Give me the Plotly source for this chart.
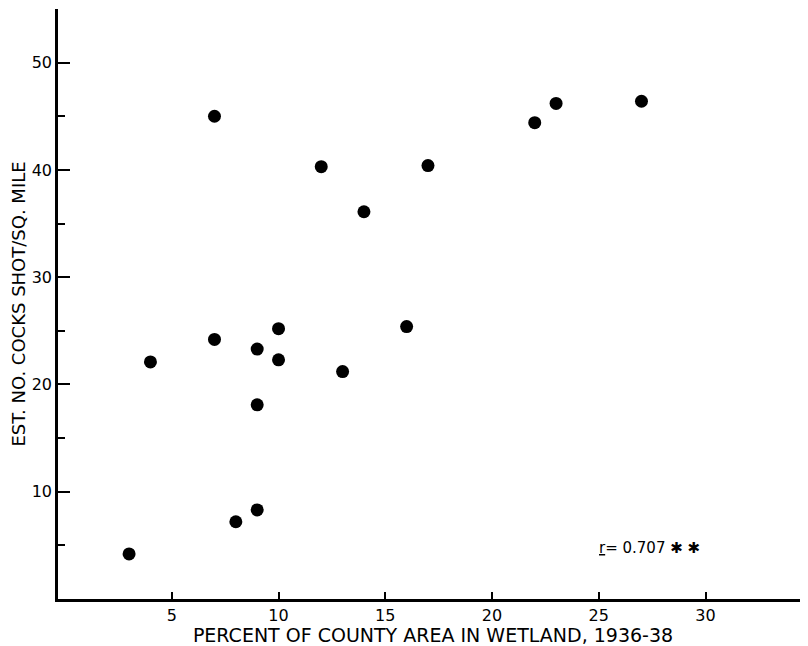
import plotly.graph_objects as go

# Data
wetland_pct = [3, 4, 7, 7, 8, 9, 9, 9, 10, 10, 12, 13, 14, 16, 17, 22, 23, 27]
cocks_per_sqmi = [4.2, 22.1, 45.0, 24.2, 7.2, 8.3, 18.1, 23.3, 25.2, 22.3,
                  40.3, 21.2, 36.1, 25.4, 40.4, 44.4, 46.2, 46.4]

x_labeled_ticks = [5, 10, 15, 20, 25, 30]
x_long_ticks = [10, 20, 30]
y_major_ticks = [10, 20, 30, 40, 50]

x_title = "PERCENT OF COUNTY AREA IN WETLAND, 1936-38"
y_title = "EST. NO. COCKS SHOT/SQ. MILE"
r_text = "<u>r</u>= 0.707 ✱ ✱"

FONT = "DejaVu Sans"
x_range = [-0.33, 34.8]
y_range = [0, 55]

fig = go.Figure()
fig.add_trace(go.Scatter(
    x=wetland_pct, y=cocks_per_sqmi, mode="markers",
    marker=dict(color="black", size=13, line=dict(width=0)),
    showlegend=False, hoverinfo="x+y",
))

fig.update_layout(
    width=800, height=638,
    margin=dict(l=50, r=0, t=1, b=47),
    paper_bgcolor="white", plot_bgcolor="white",
    font=dict(family=FONT, color="black", size=16),
    xaxis=dict(
        range=x_range, showgrid=False, zeroline=False,
        showline=True, linecolor="black", linewidth=2.5,
        tickmode="array", tickvals=x_labeled_ticks,
        ticks="inside", ticklen=7, tickwidth=2, tickcolor="black",
        tickfont=dict(size=16, family=FONT),
        title=dict(text=x_title, font=dict(size=19, family=FONT), standoff=0),
        automargin=False,
    ),
    xaxis2=dict(
        range=x_range, overlaying="x", side="bottom", anchor="y",
        showgrid=False, zeroline=False, showline=False,
        tickmode="array", tickvals=x_long_ticks, showticklabels=False,
        ticks="inside", ticklen=14, tickwidth=2, tickcolor="black",
    ),
    yaxis=dict(
        range=y_range, showgrid=False, zeroline=False,
        showline=True, linecolor="black", linewidth=2.5,
        tickmode="array", tickvals=y_major_ticks,
        ticks="inside", ticklen=12, tickwidth=2, tickcolor="black",
        tickfont=dict(size=16, family=FONT),
        minor=dict(ticks="inside", ticklen=7, tickwidth=2, tickcolor="black",
                   tick0=5, dtick=10),
        title=dict(text=y_title, font=dict(size=18, family=FONT), standoff=7),
        automargin=False,
    ),
    annotations=[dict(
        x=24.9, y=4.8, xref="x", yref="y", text=r_text, showarrow=False,
        xanchor="left", yanchor="middle", font=dict(size=15, family=FONT),
    )],
)

fig.write_html("out.html")
